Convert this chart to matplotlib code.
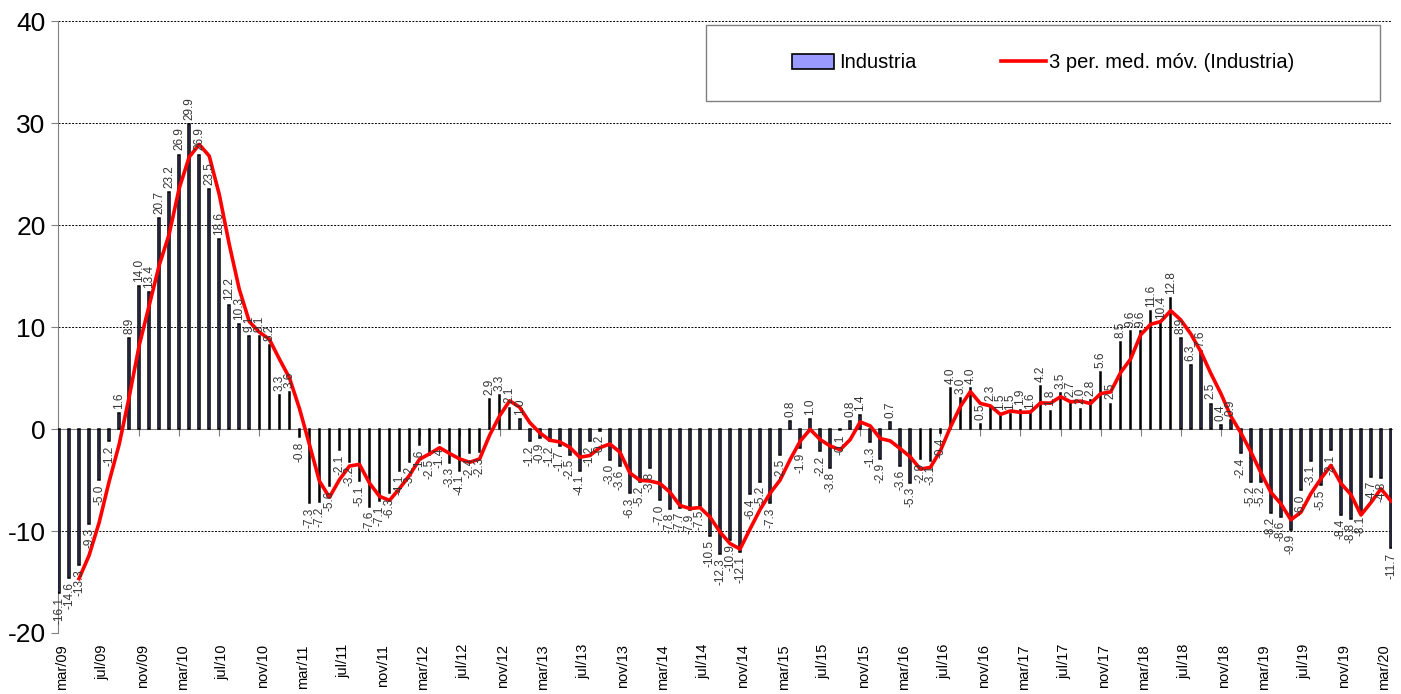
import pandas as pd
import matplotlib
matplotlib.use('Agg')
import matplotlib.pyplot as plt
from matplotlib.patches import Rectangle

plt.rcParams['font.family'] = ['Liberation Sans', 'DejaVu Sans']
plt.rcParams['axes.unicode_minus'] = False

# monthly values, mar/09 .. apr/20
industria = [
    -16.1, -14.6, -13.3, -9.3, -5.0, -1.2, 1.6, 8.9, 14.0, 13.4, 20.7, 23.2,
    26.9, 29.9, 26.9, 23.5, 18.6, 12.2, 10.3, 9.1, 9.1, 8.2, 3.3, 3.6,
    -0.8, -7.3, -7.2, -5.6, -2.1, -3.2, -5.1, -7.6, -7.1, -6.3, -4.1, -3.2,
    -1.6, -2.5, -1.4, -3.3, -4.1, -2.4, -2.3, 2.9, 3.3, 2.1, 1.0, -1.2,
    -0.9, -1.2, -1.7, -2.5, -4.1, -1.2, -0.2, -3.0, -3.6, -6.3, -5.2, -3.8,
    -7.0, -7.8, -7.7, -7.9, -7.5, -10.5, -12.3, -10.9, -12.1, -6.4, -5.2, -7.3,
    -2.5, 0.8, -1.9, 1.0, -2.2, -3.8, -0.1, 0.8, 1.4, -1.3, -2.9, 0.7,
    -3.6, -5.3, -2.9, -3.1, -0.4, 4.0, 3.0, 4.0, 0.5, 2.3, 1.5, 1.5,
    1.9, 1.6, 4.2, 1.8, 3.5, 2.7, 2.0, 2.8, 5.6, 2.5, 8.5, 9.6,
    9.6, 11.6, 10.4, 12.8, 8.9, 6.3, 7.6, 2.5, 0.4, 0.9, -2.4, -5.2,
    -5.2, -8.2, -8.6, -9.9, -6.0, -3.1, -5.5, -2.1, -8.4, -8.8, -8.1, -4.7,
    -4.8, -11.7,
]
tick_labels = [
    'mar/09', 'jul/09', 'nov/09', 'mar/10', 'jul/10', 'nov/10', 'mar/11', 'jul/11',
    'nov/11', 'mar/12', 'jul/12', 'nov/12', 'mar/13', 'jul/13', 'nov/13', 'mar/14',
    'jul/14', 'nov/14', 'mar/15', 'jul/15', 'nov/15', 'mar/16', 'jul/16', 'nov/16',
    'mar/17', 'jul/17', 'nov/17', 'mar/18', 'jul/18', 'nov/18', 'mar/19', 'jul/19',
    'nov/19', 'mar/20',
]
tick_step = 4

s = pd.Series(industria)
media_movil = s.rolling(3).mean()
x = list(range(len(s)))

fig = plt.figure(figsize=(14.01, 6.94), dpi=100)
ax = fig.add_axes([0.0414, 0.0879, 0.9522, 0.8818])

bars = ax.bar(x, s, width=0.16, color='#9999FF', edgecolor='black', linewidth=1.1,
              label='Industria', zorder=3)
line, = ax.plot(x, media_movil, color='#FF0000', lw=2.6, zorder=4,
                label='3 per. med. móv. (Industria)')

for i, v in enumerate(industria):
    ax.annotate(f'{v:.1f}', (i, v), xytext=(0, 3 if v >= 0 else -3),
                textcoords='offset points', rotation=90, ha='center',
                va='bottom' if v >= 0 else 'top', fontsize=8.5, color='#333333',
                annotation_clip=False, zorder=5)

ax.set_xlim(-0.1, len(s) - 0.9)
ax.set_ylim(-20, 40)
ax.set_yticks(range(-20, 41, 10))
ax.tick_params(axis='y', labelsize=19, length=5, color='#808080', pad=4)
for yv in [-20, -10, 10, 20, 30, 40]:
    ax.axhline(yv, color='black', lw=0.7, ls=(0, (2, 1.5)), zorder=1)

for side in ['top', 'right']:
    ax.spines[side].set_visible(False)
ax.spines['left'].set_color('#808080')
ax.spines['bottom'].set_position(('data', 0))
ax.spines['bottom'].set_color('#808080')
ax.spines['bottom'].set_zorder(2)
ax.set_xticks(range(0, len(s), tick_step))
ax.tick_params(axis='x', length=5, color='#808080', labelbottom=False)

trans = ax.get_xaxis_transform()
for k, lab in enumerate(tick_labels):
    ax.text(k * tick_step + 0.35, -0.018, lab, transform=trans, rotation=90,
            ha='center', va='top', fontsize=10.5)

# legend box
fig.patches.append(Rectangle((706 / 1401, 1 - 101 / 694), 674 / 1401, 76 / 694,
                             transform=fig.transFigure, facecolor='white',
                             edgecolor='#808080', lw=1, zorder=6))
leg = fig.legend(handles=[bars, line], loc='center', ncol=2,
                 bbox_to_anchor=(1043 / 1401, 1 - 63 / 694), frameon=False,
                 fontsize=14.5, handlelength=2.2, handletextpad=0.15,
                 columnspacing=4.2)
leg.legend_handles[0].set_width(30)
leg.legend_handles[0].set_linewidth(1.2)
leg.set_zorder(7)

fig.savefig('out.png', dpi=100)
